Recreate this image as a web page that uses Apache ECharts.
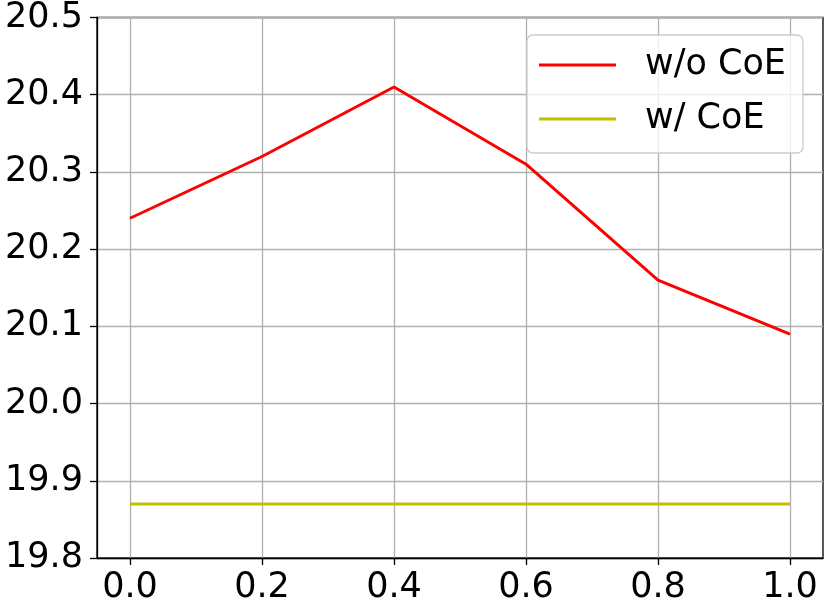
<!DOCTYPE html>
<html>
<head>
<meta charset="utf-8">
<script src="https://cdn.jsdelivr.net/npm/echarts@6/dist/echarts.min.js"></script>
<style>
  html, body { margin: 0; padding: 0; background: #fff; }
  #chart { width: 830px; height: 606px; }
</style>
</head>
<body>
<div id="chart"></div>
<script>
// data
var xValues = [0.0, 0.2, 0.4, 0.6, 0.8, 1.0];
var withoutCoE = [20.24, 20.32, 20.41, 20.31, 20.16, 20.09];
var withCoE = [19.87, 19.87, 19.87, 19.87, 19.87, 19.87];
var seriesNames = ['w/o CoE', 'w/ CoE'];

function pairs(xs, ys) {
  return xs.map(function (x, i) { return [x, ys[i]]; });
}

var font = 'DejaVu Sans';
var chart = echarts.init(document.getElementById('chart'));
var option = {
  animation: false,
  backgroundColor: '#fff',
  textStyle: { fontFamily: font },
  grid: [
    // frame, padded like matplotlib (5% each side)
    { left: 97, right: 7, top: 17, bottom: 48, show: true, borderColor: '#000', borderWidth: 1.3, backgroundColor: 'transparent' },
    // tick grid, covering 0..1 exactly
    { left: 130, right: 40, top: 17, bottom: 48 }
  ],
  xAxis: [
    {
      type: 'value', gridIndex: 0, min: -0.05, max: 1.05,
      axisLine: { show: true, onZero: false, lineStyle: { color: '#000', width: 1.3 } },
      axisTick: { show: false }, axisLabel: { show: false }, splitLine: { show: false }
    },
    {
      type: 'value', gridIndex: 1, min: 0, max: 1, interval: 0.2,
      axisLine: { show: false, onZero: false },
      axisTick: { show: true, length: 7, lineStyle: { color: '#000', width: 1.3 } },
      axisLabel: {
        color: '#000', fontSize: 35, fontFamily: font, margin: 12,
        formatter: function (v) { return v.toFixed(1); }
      },
      splitLine: { show: true, lineStyle: { color: '#b0b0b0', width: 1.3 } }
    }
  ],
  yAxis: [
    {
      type: 'value', gridIndex: 0, min: 19.8, max: 20.5, interval: 0.1,
      axisLine: { show: true, onZero: false, lineStyle: { color: '#000', width: 1.3 } },
      axisTick: { show: true, length: 7, lineStyle: { color: '#000', width: 1.3 } },
      axisLabel: {
        color: '#000', fontSize: 35, fontFamily: font, margin: 14,
        formatter: function (v) { return v.toFixed(1); }
      },
      splitLine: { show: true, lineStyle: { color: '#b0b0b0', width: 1.3 } }
    },
    {
      type: 'value', gridIndex: 1, min: 19.8, max: 20.5, show: false,
      axisLine: { show: false, onZero: false }
    }
  ],
  legend: {
    orient: 'vertical',
    left: 527, top: 35,
    padding: [10, 17, 14, 12],
    itemGap: 14,
    itemWidth: 77, itemHeight: 3,
    icon: 'rect',
    backgroundColor: 'rgba(255,255,255,0.8)',
    borderColor: '#cccccc', borderWidth: 1.3, borderRadius: 6,
    textStyle: { color: '#000', fontSize: 35, fontFamily: font, lineHeight: 40, padding: [0, 0, 0, 24] },
    data: seriesNames
  },
  series: [
    {
      name: seriesNames[0], type: 'line', xAxisIndex: 0, yAxisIndex: 0,
      data: pairs(xValues, withoutCoE), showSymbol: false, symbol: 'none',
      color: '#ff0000', lineStyle: { color: '#ff0000', width: 3 }
    },
    {
      name: seriesNames[1], type: 'line', xAxisIndex: 0, yAxisIndex: 0,
      data: pairs(xValues, withCoE), showSymbol: false, symbol: 'none',
      color: '#bfbf00', lineStyle: { color: '#bfbf00', width: 3 }
    }
  ]
};
chart.setOption(option);
</script>
</body>
</html>
